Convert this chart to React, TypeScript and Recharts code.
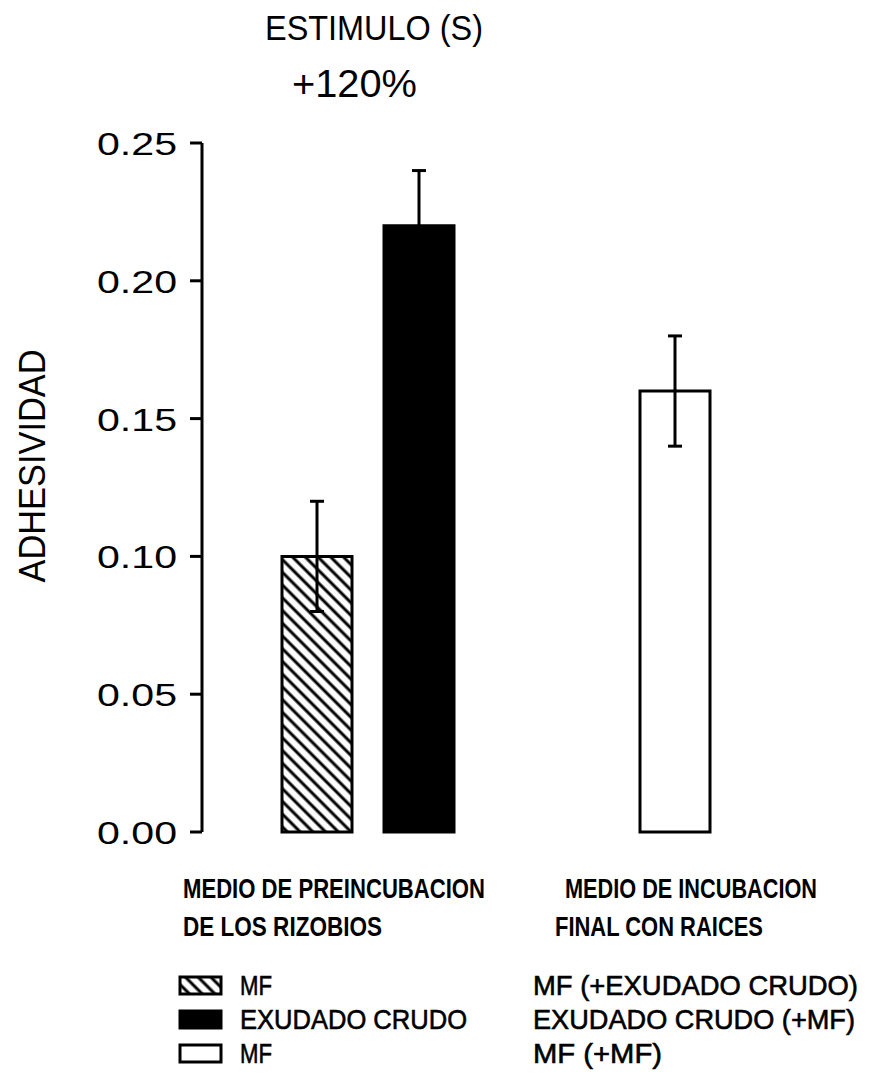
import React from 'react';
import { BarChart, Bar, XAxis, YAxis, ErrorBar, Legend } from 'recharts';

// ---- data ----
const categories = ['PREINCUBACION', 'INCUBACION FINAL'];
const mfValues = [0.1, null];
const mfErrors = [0.02, null];
const exudadoValues = [0.22, null];
const exudadoErrors = [0.02, null];
const finalMfValues = [null, 0.16];
const finalMfErrors = [null, 0.02];
const yTicks = [0, 0.05, 0.1, 0.15, 0.2, 0.25];
const titleLines = ['ESTIMULO (S)', '+120%'];
const yLabel = 'ADHESIVIDAD';
const groupLabelsPre = ['MEDIO DE PREINCUBACION', 'DE LOS RIZOBIOS'];
const groupLabelsFinal = ['MEDIO DE INCUBACION', 'FINAL CON RAICES'];
const legendNames = ['MF', 'EXUDADO CRUDO', 'MF'];
const legendFinal = ['MF (+EXUDADO CRUDO)', 'EXUDADO CRUDO (+MF)', 'MF (+MF)'];

const data = categories.map((cat, i) => ({
  cat,
  mf: mfValues[i],
  mfErr: mfErrors[i],
  exudado: exudadoValues[i],
  exudadoErr: exudadoErrors[i],
  finalMf: finalMfValues[i],
  finalMfErr: finalMfErrors[i],
}));

// ---- styles ----
const FONT = "'Liberation Sans', Arial, Helvetica, sans-serif";
const NARROW = "'Liberation Sans Narrow', 'Liberation Sans', Arial, sans-serif";
const W = 879;
const H = 1074;

const legendFills = ['url(#hatchLegend)', '#000', '#fff'];
const legendNameLen = [32, 227, 32];
const legendFinalLen = [325, 322, 129];
const legendBaselines = [35, 69, 103];

const YTick = (props: any) => {
  const { x, y, payload } = props;
  return (
    <text
      x={x}
      y={y}
      dy={12}
      textAnchor="end"
      fontSize={32}
      fontFamily={FONT}
      fill="#000"
      textLength={80}
      lengthAdjust="spacingAndGlyphs"
    >
      {Number(payload.value).toFixed(2)}
    </text>
  );
};

const renderLegend = () => (
  <svg width={W} height={114} style={{ display: 'block' }}>
    <defs>
      <pattern id="hatchLegend" width={9} height={9} patternUnits="userSpaceOnUse" patternTransform="rotate(-45)">
        <rect width={9} height={9} fill="#fff" />
        <line x1={2} y1={0} x2={2} y2={9} stroke="#000" strokeWidth={3} />
      </pattern>
    </defs>
    {legendNames.map((name, i) => {
      const b = legendBaselines[i];
      return (
        <g key={i}>
          <rect x={180} y={b - 18} width={41} height={17} fill={legendFills[i]} stroke="#000" strokeWidth={3} />
          <text x={240} y={b} fontSize={28} fontFamily={FONT} fill="#000" stroke="#000" strokeWidth={0.6} textLength={legendNameLen[i]} lengthAdjust="spacingAndGlyphs">
            {name}
          </text>
          <text x={533} y={b} fontSize={28} fontFamily={FONT} fill="#000" stroke="#000" strokeWidth={0.6} textLength={legendFinalLen[i]} lengthAdjust="spacingAndGlyphs">
            {legendFinal[i]}
          </text>
        </g>
      );
    })}
  </svg>
);

export default function App() {
  return (
    <div style={{ position: 'absolute', left: 0, top: 0, width: W, height: H, background: '#fff' }}>
      <BarChart
        width={W}
        height={H}
        data={data}
        margin={{ top: 143, right: 0, bottom: 242, left: 0 }}
        barSize={70}
        barGap={32}
      >
        <defs>
          <pattern id="hatch" width={9} height={9} patternUnits="userSpaceOnUse" patternTransform="rotate(-45)">
            <rect width={9} height={9} fill="#fff" />
            <line x1={2} y1={0} x2={2} y2={9} stroke="#000" strokeWidth={3} />
          </pattern>
        </defs>
        <XAxis
          dataKey="cat"
          type="category"
          height={0}
          tick={false}
          tickLine={false}
          axisLine={{ stroke: '#000', strokeWidth: 3 }}
          padding={{ left: 38, right: 127 }}
        />
        <YAxis
          type="number"
          domain={[0, 0.25]}
          ticks={yTicks}
          width={202}
          tickSize={12}
          tickMargin={13}
          tick={<YTick />}
          tickLine={{ stroke: '#000', strokeWidth: 3 }}
          axisLine={{ stroke: '#000', strokeWidth: 3 }}
          interval={0}
        />
        <Bar dataKey="mf" name="MF" stackId="left" fill="url(#hatch)" stroke="#000" strokeWidth={3} isAnimationActive={false}>
          <ErrorBar dataKey="mfErr" width={7} stroke="#000" strokeWidth={3} />
        </Bar>
        <Bar dataKey="exudado" name="EXUDADO CRUDO" stackId="right" fill="#000" stroke="#000" strokeWidth={3} isAnimationActive={false}>
          <ErrorBar dataKey="exudadoErr" width={7} stroke="#000" strokeWidth={3} />
        </Bar>
        <Bar dataKey="finalMf" name="MF (+MF)" stackId="right" fill="#fff" stroke="#000" strokeWidth={3} isAnimationActive={false}>
          <ErrorBar dataKey="finalMfErr" width={7} stroke="#000" strokeWidth={3} />
        </Bar>
        <Legend
          layout="horizontal"
          verticalAlign="middle"
          align="center"
          content={renderLegend}
          wrapperStyle={{ position: 'absolute', left: 0, top: 960, width: W, height: 114, margin: 0, padding: 0 }}
        />
        {/* title */}
        <text x={265} y={40} fontSize={35} fontFamily={FONT} fill="#000" textLength={218} lengthAdjust="spacingAndGlyphs">
          {titleLines[0]}
        </text>
        <text x={292} y={97} fontSize={39} fontFamily={FONT} fill="#000" textLength={125} lengthAdjust="spacingAndGlyphs">
          {titleLines[1]}
        </text>
        {/* y label */}
        <text
          transform="translate(45,466) rotate(-90)"
          textAnchor="middle"
          fontSize={37}
          fontFamily={FONT}
          fill="#000"
          textLength={233}
          lengthAdjust="spacingAndGlyphs"
        >
          {yLabel}
        </text>
        {/* group labels */}
        <text x={183} y={898} fontSize={27} fontWeight="bold" fontFamily={NARROW} fill="#000" textLength={302} lengthAdjust="spacingAndGlyphs">
          {groupLabelsPre[0]}
        </text>
        <text x={183} y={936} fontSize={27} fontWeight="bold" fontFamily={NARROW} fill="#000" textLength={199} lengthAdjust="spacingAndGlyphs">
          {groupLabelsPre[1]}
        </text>
        <text x={565} y={898} fontSize={27} fontWeight="bold" fontFamily={NARROW} fill="#000" textLength={252} lengthAdjust="spacingAndGlyphs">
          {groupLabelsFinal[0]}
        </text>
        <text x={555} y={936} fontSize={27} fontWeight="bold" fontFamily={NARROW} fill="#000" textLength={208} lengthAdjust="spacingAndGlyphs">
          {groupLabelsFinal[1]}
        </text>
      </BarChart>
    </div>
  );
}
